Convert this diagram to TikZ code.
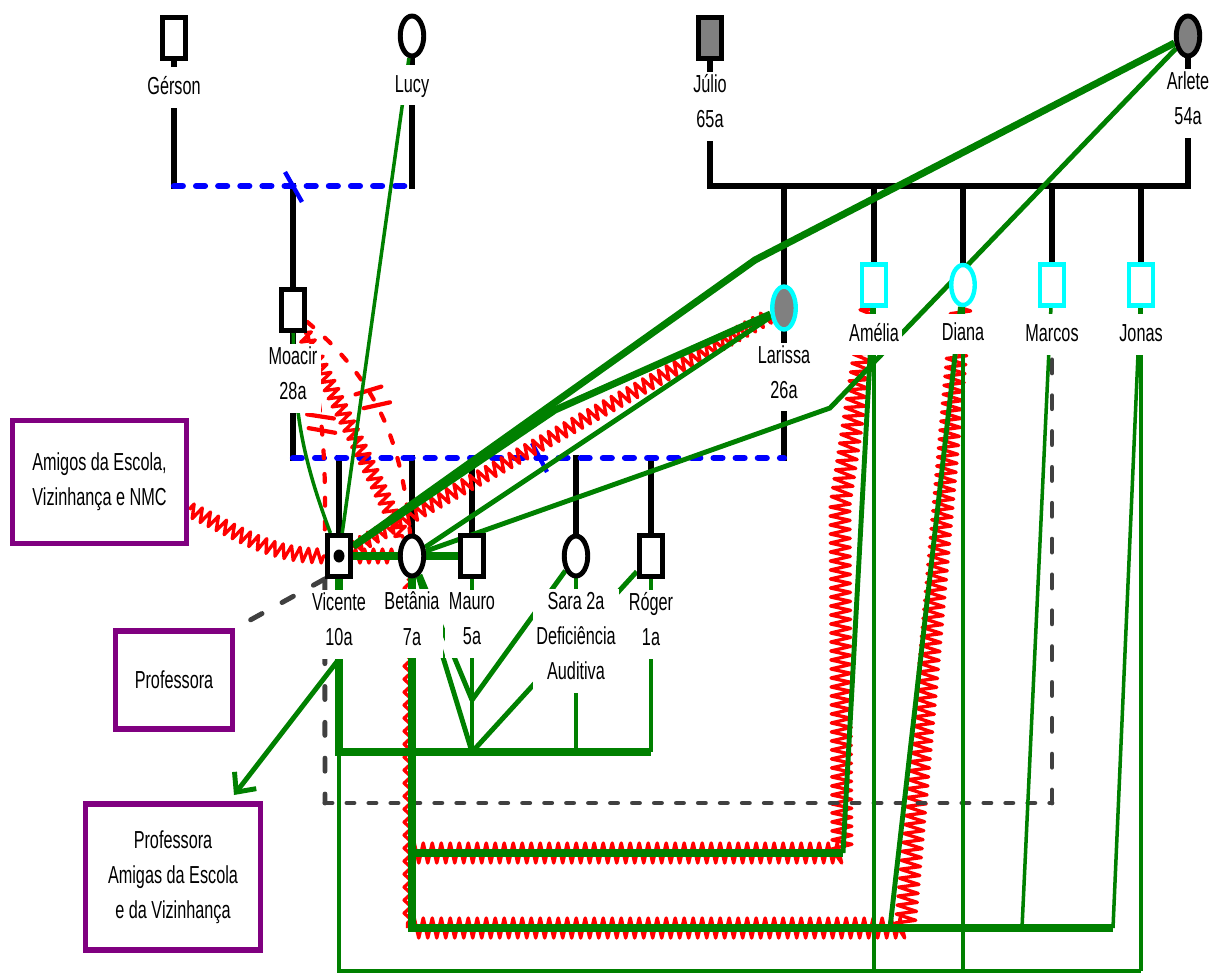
\documentclass[tikz,border=0pt]{standalone}
\usepackage{fontspec}
\setmainfont{Liberation Sans}[FakeStretch=0.66]
\usepackage{tikz}
\usetikzlibrary{positioning, arrows.meta, shapes.geometric, decorations.pathmorphing, decorations.markings, backgrounds, calc}
\definecolor{tiegreen}{RGB}{0,128,0}
\definecolor{boxpurple}{RGB}{128,0,128}
\definecolor{distgray}{RGB}{64,64,64}
\definecolor{sickgray}{RGB}{128,128,128}
\definecolor{brightcyan}{RGB}{0,255,255}

\begin{document}
\begin{tikzpicture}[
    x=0.02cm, y=-0.02cm,
    node distance=3.5pt,
    every node/.style={font=\fontsize{14pt}{20pt}\selectfont},
    manbox/.style={
        rectangle,
        draw,
        line width=2.8pt,
        fill=white,
        minimum width=0.47cm,
        minimum height=0.82cm,
        inner sep=0pt
    },
    womanbox/.style={
        ellipse,
        draw,
        line width=2.8pt,
        fill=white,
        minimum width=0.47cm,
        minimum height=0.8cm,
        inner sep=0pt
    },
    ill/.style={fill=sickgray},
    cyanline/.style={draw=brightcyan, line width=2.5pt},
    namelabel/.style={
        fill=white,
        inner xsep=2pt,
        inner ysep=1.5pt,
        align=center,
        execute at begin node=\strut,
        execute at end node=\strut
    },
    groupbox/.style={
        rectangle,
        draw=boxpurple,
        line width=3pt,
        fill=white,
        align=center
    },
    familyline/.style={draw=black, line width=3pt, line cap=rect},
    divorce/.style={draw=blue, line width=3.6pt, dash pattern=on 5pt off 7.6pt, line cap=round},
    cutmark/.style={draw=blue, line width=2.5pt},
    closeline/.style={draw=tiegreen, line width=4pt},
    closemid/.style={draw=tiegreen, line width=2.8pt},
    closethin/.style={draw=tiegreen, line width=2pt},
    conflict/.style={draw=red, line width=1.9pt, line join=round, decorate,
        decoration={zigzag, segment length=0.18cm, amplitude=0.14cm}},
    bigzig/.style={decoration={amplitude=0.2cm, segment length=0.18cm}},
    smallzig/.style={decoration={amplitude=0.07cm, segment length=0.26cm}},
    brokenline/.style={draw=red, line width=2.4pt, dash pattern=on 4.5pt off 9pt, line cap=round},
    cutbars/.style={postaction={decorate, decoration={markings,
        mark=at position #1 with {\draw[red, line width=2.4pt, solid] (-2pt,-0.26cm) -- (2pt,0.26cm);},
        mark=at position #1+0.07 with {\draw[red, line width=2.4pt, solid] (-2pt,-0.26cm) -- (2pt,0.26cm);}}}},
    distant/.style={draw=distgray, line width=2.8pt, dash pattern=on 7.4pt off 13pt, line cap=round},
    distantdot/.style={draw=distgray, line width=2.8pt, dash pattern=on 4pt off 8.5pt, line cap=round},
    arrow/.style={-{Straight Barb[length=3mm, width=5.5mm]}, draw=tiegreen, line width=2.8pt}
]

\useasboundingbox (0,0) rectangle (1213,973);

\node[manbox] (gerson) at (174,38) {};
\node[womanbox] (lucy) at (412,36) {};
\node[manbox, ill] (julio) at (710,38) {};
\node[womanbox, ill] (arlete) at (1188,36) {};
\node[manbox] (moacir) at (293,310) {};
\node[womanbox, ill, cyanline, minimum height=0.86cm] (larissa) at (784,308) {};
\node[manbox, cyanline] (amelia) at (874,285) {};
\node[womanbox, cyanline] (diana) at (963,285) {};
\node[manbox, cyanline] (marcos) at (1052,285) {};
\node[manbox, cyanline] (jonas) at (1141,285) {};
\node[manbox] (vicente) at (339,556) {};
\node[womanbox] (betania) at (412,556) {};
\node[manbox] (mauro) at (472,556) {};
\node[womanbox] (sara) at (576,556) {};
\node[manbox] (roger) at (651,556) {};
\fill (vicente.center) ellipse [x radius=0.11cm, y radius=0.13cm];

\node[namelabel, below=of gerson] (gersonname) {Gérson};
\node[namelabel, below=of lucy] (lucyname) {Lucy};
\node[namelabel, below=6pt of julio] (julioname) {Júlio\\65a};
\node[namelabel, below=6pt of arlete] (arletename) {Arlete\\54a};
\node[namelabel, below=6pt of moacir] (moacirname) {Moacir\\28a};
\node[namelabel, below=6pt of larissa] (larissaname) {Larissa\\26a};
\node[namelabel, below=of amelia] (amelianame) {Amélia};
\node[namelabel, below=of diana] (diananame) {Diana};
\node[namelabel, below=of marcos] (marcosname) {Marcos};
\node[namelabel, below=of jonas] (jonasname) {Jonas};
\node[namelabel, below=6pt of vicente] (vicentename) {Vicente\\10a};
\node[namelabel, below=6pt of betania] (betanianame) {Betânia\\7a};
\node[namelabel, below=6pt of mauro] (mauroname) {Mauro\\5a};
\node[namelabel, below=6pt of sara] (saraname) {Sara 2a\\Deficiência\\Auditiva};
\node[namelabel, below=6pt of roger] (rogername) {Róger\\1a};

\node[groupbox, minimum width=3.48cm, minimum height=2.46cm] (amigos) at (99.5,482) {Amigos da Escola,\\Vizinhança e NMC};
\node[groupbox, minimum width=2.34cm, minimum height=1.96cm] (professora) at (174,680) {Professora};
\node[groupbox, minimum width=3.5cm, minimum height=2.92cm] (professoras) at (173,877) {Professora\\Amigas da Escola\\e da Vizinhança};

\coordinate (gmar1) at (174,186);
\coordinate (gmar2) at (412,186);
\coordinate (gcut) at (293,186);
\coordinate (jmar1) at (710,186);
\coordinate (jmar2) at (1188,186);
\coordinate (kmar1) at (293,458);
\coordinate (kmar2) at (784,458);
\coordinate (kcut) at (540,458);
\coordinate (arlbend1) at (755,260);
\coordinate (arlbend2) at (830,408);
\coordinate (larbend) at (555,410);
\coordinate (sibrow) at (339,752);
\coordinate (maurofork) at (472,700);
\coordinate (vicbottom) at (339,971);
\coordinate (betrow1) at (412,853);
\coordinate (betrow2) at (412,928);
\coordinate (ameliaturn) at (843,853);
\coordinate (dianaturn) at (890,928);
\coordinate (marcosturn) at (1022,928);
\coordinate (jonasturn) at (1113,928);
\coordinate (ameliazig) at (842,853);
\coordinate (ameliazig2) at (840,505);
\coordinate (dianazig) at (905,928);
\coordinate (distcorner1) at (325,803);
\coordinate (distcorner2) at (1052,803);
\coordinate (arrowtip) at (234,795);

\begin{pgfonlayer}{background}
\draw[familyline] (gerson) -- (gmar1);
\draw[familyline] (lucy) -- (gmar2);
\draw[familyline] (moacir) -- (moacir |- gmar1);
\draw[divorce] (gmar1) -- (gmar2);
\draw[cutmark] ($(gcut)+(-8,-14)$) -- ($(gcut)+(9,16)$);
\draw[familyline] (julio) -- (jmar1) -- (jmar2) -- (arlete);
\foreach \kid in {larissa, amelia, diana, marcos, jonas}
    \draw[familyline] (\kid) -- (\kid |- jmar1);
\draw[familyline] (moacir) -- (kmar1);
\draw[familyline] (larissa) -- (kmar2);
\foreach \kid in {vicente, betania, mauro, sara, roger}
    \draw[familyline] (\kid) -- (\kid |- kmar1);
\draw[divorce] (kmar1) -- (kmar2);
\draw[cutmark] ($(kcut)+(-8,-15)$) -- ($(kcut)+(7,14)$);

\draw[conflict] (amigos.-17) to[out=-25, in=180] (vicente);
\draw[conflict] (vicente) -- (betania);
\draw[conflict] (vicente) -- (larissa);
\draw[conflict] (moacir) -- (betania);
\draw[conflict, smallzig, transform canvas={xshift=-2.5pt}] (betania) -- (betrow2);
\draw[conflict, bigzig] (betrow1) -- (ameliazig) -- (ameliazig2) -- (amelia);
\draw[conflict, bigzig] (betrow2) -- (dianazig) -- (diana);
\draw[brokenline, cutbars=0.38] (moacir) to[out=-40, in=95] (betania);
\draw[brokenline, cutbars=0.42] (moacir.south east) to[bend left=6] (vicente.north west);

\draw[distant] (vicente.south west) -- (professora.north east);
\draw[distant] (vicente.south west) -- (distcorner1);
\draw[distantdot] (distcorner1) -- (distcorner2);
\draw[distant] (distcorner2) -- (marcos);

\draw[closethin] (lucy) -- (vicente);
\draw[closethin] (moacir) to[bend right=10] (vicente);
\draw[closeline] (arlete) -- (arlbend1) -- (vicente);
\draw[closemid] (arlete) -- (arlbend2) -- (betania);
\draw[closeline] (larissa) -- (larbend) -- (vicente);
\draw[closemid] (larissa) -- (betania);
\draw[closeline] (vicente) -- (betania);
\draw[closeline] (betania) -- (mauro);
\draw[arrow] (vicentename.south) -- (arrowtip);
\draw[closeline] (vicente) -- (sibrow) -- (sibrow -| roger);
\draw[closethin] (roger) -- (sibrow -| roger);
\draw[closemid] (mauro) -- (mauro |- sibrow);
\draw[closemid] (sara) -- (sara |- sibrow);
\draw[closemid] (betania) -- (maurofork);
\draw[closemid] (betania) -- (mauro |- sibrow);
\draw[closemid] (sara) -- (maurofork);
\draw[closemid] (roger) -- (mauro |- sibrow);
\draw[closethin] (sibrow) -- (vicbottom) -- (vicbottom -| jonas);
\foreach \kid in {amelia, diana, jonas}
    \draw[closethin] (\kid) -- (\kid |- vicbottom);
\draw[closeline] (betania) -- (betrow2) -- (jonasturn);
\draw[closeline] (betrow1) -- (ameliaturn);
\draw[closemid] (ameliaturn) -- (amelia);
\draw[closemid] (dianaturn) -- (diana);
\draw[closethin] (marcosturn) -- (marcos);
\draw[closethin] (jonasturn) -- (jonas);
\end{pgfonlayer}

\end{tikzpicture}
\end{document}
